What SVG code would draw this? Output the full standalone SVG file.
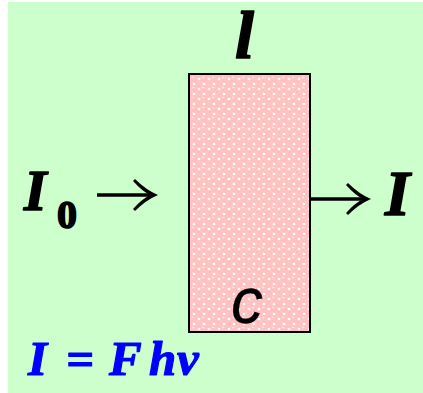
<svg xmlns="http://www.w3.org/2000/svg" width="423" height="393" viewBox="0 0 423 393">
<style>
.bi{font-family:"Liberation Serif","Times New Roman",serif;font-weight:bold;font-style:italic;stroke-linejoin:round}
.b{font-family:"Liberation Serif","Times New Roman",serif;font-weight:bold}
.blk{fill:#000;stroke:#000;stroke-width:1.6}
.arr{fill:none;stroke:#000;stroke-width:3.5}
.head{fill:#000;stroke:none}
</style>
<defs>
<pattern id="bub" width="10" height="10" patternUnits="userSpaceOnUse" x="189" y="74">
<rect width="10" height="10" fill="#ffffff"/>
<circle cx="0" cy="0" r="3.9" fill="#ffc2c2"/>
<circle cx="10" cy="0" r="3.9" fill="#ffc2c2"/>
<circle cx="0" cy="10" r="3.9" fill="#ffc2c2"/>
<circle cx="10" cy="10" r="3.9" fill="#ffc2c2"/>
<circle cx="5" cy="5" r="3.9" fill="#ffc2c2"/>
<ellipse cx="4.2" cy="3.6" rx="1.4" ry="0.8" fill="#ffe8e8"/>
</pattern>
</defs>
<rect x="8" y="2" width="415" height="391" fill="#ccffcc"/>
<g id="sample">
<rect x="189" y="74" width="121" height="258" fill="url(#bub)" stroke="#000" stroke-width="2"/>
<text x="231" y="323" font-family="Liberation Sans, Arial, sans-serif" font-style="italic" font-size="64" fill="#000" stroke="#000" stroke-width="0.3">c</text>
</g>
<g id="length"><text class="bi blk" x="235" y="58" font-size="68">l</text></g>
<g id="incident">
<text class="bi blk" x="24" y="210" font-size="58">I</text>
<text class="b blk" x="57" y="228" font-size="40" stroke-width="1">0</text>
</g>
<g id="transmitted"><text class="bi blk" x="385" y="215" font-size="64">I</text></g>
<g id="connectors">
<path class="arr" d="M97 195 H152"/>
<path class="head" d="M135 179 Q146 190 158 195 Q146 200 135 211 L133 209 Q142 199 150 195 Q142 191 133 181 Z"/>
<path class="arr" d="M310 199 H365"/>
<path class="head" d="M348 183 Q359 194 371 199 Q359 204 348 215 L346 213 Q355 203 363 199 Q355 195 346 185 Z"/>
</g>
<g id="formula"><text class="bi" y="375" font-size="49" fill="#0000ff" stroke="#0000ff" stroke-width="1.2"><tspan x="28">I</tspan><tspan x="66">=</tspan><tspan x="109">F</tspan><tspan x="149">h</tspan><tspan x="177">ν</tspan></text></g>
</svg>
